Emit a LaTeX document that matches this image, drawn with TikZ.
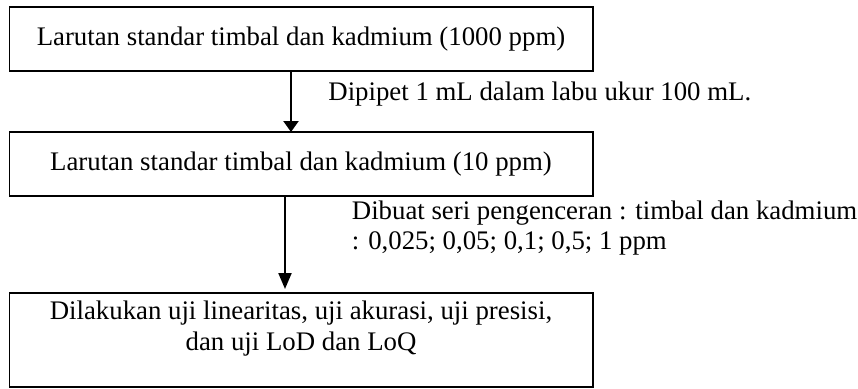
\documentclass[tikz,border=0pt]{standalone}
\usepackage{fontspec}
\setmainfont{Liberation Serif}
\usetikzlibrary{arrows.meta, positioning}
\tikzset{
  stepbox/.style={rectangle, draw=black, line width=0.8pt, minimum width=291.7pt, align=center, outer sep=0pt, inner sep=0pt, font=\fontsize{13.4}{15.5}\selectfont},
  note/.style={align=left, inner sep=0pt, font=\fontsize{13.4}{15}\selectfont},
  arr/.style={-{Triangle[length=5.5pt, width=7.5pt]}, line width=1.1pt, black},
}

\begin{document}
\begin{tikzpicture}[x=0.5pt, y=-0.5pt]
\useasboundingbox (0,0) rectangle (858,388);
\node[stepbox, minimum height=32pt] (stock) at (301,39) {Larutan standar timbal dan kadmium (1000 ppm)};
\node[stepbox, minimum height=32pt, below=30.5pt of stock] (inter) {Larutan standar timbal dan kadmium (10 ppm)};
\node[stepbox, minimum height=47pt, below=48.5pt of inter] (tests) {Dilakukan uji linearitas, uji akurasi, uji presisi,\\ dan uji LoD dan LoQ\\[-1pt]};
\node[note, anchor=base west] (pipet) at (328,100) {Dipipet 1 mL dalam labu ukur 100 mL.};
\node[note, anchor=north west] (series) at (351.5,200) {Dibuat seri pengenceran : timbal dan kadmium\\ : 0,025; 0,05; 0,1; 0,5; 1 ppm};
\draw[arr] ([xshift=-5pt]stock.south) -- ([xshift=-5pt]inter.north);
\draw[arr, -{Triangle[length=8pt, width=6.5pt]}] ([xshift=-8pt]inter.south) -- ([xshift=-8pt, yshift=2pt]tests.north);
\end{tikzpicture}
\end{document}
